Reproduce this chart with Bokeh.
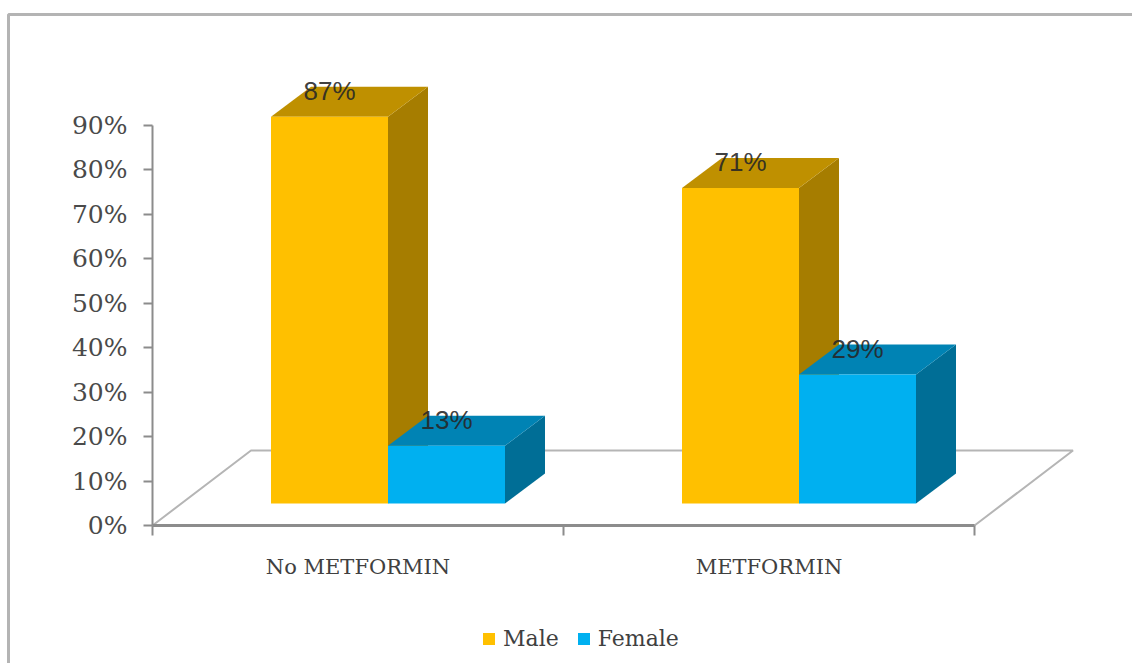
from bokeh.embed import file_html
from bokeh.models import BoxAnnotation, FixedTicker, Legend, LegendItem, LinearAxis, Range1d
from bokeh.plotting import figure
from bokeh.resources import INLINE
from bokeh.core.properties import value

categories = ["No METFORMIN", "METFORMIN"]
male = [87, 71]
female = [13, 29]
percent_ticks = [0, 10, 20, 30, 40, 50, 60, 70, 80, 90]

# Pixel scale of the two axes
PX_PER_CATEGORY = 411.0
PX_PER_PERCENT = 4.444
AXIS_LEFT = 152
AXIS_BOTTOM = 525
WIDTH, HEIGHT = 1132, 663

# Oblique projection used for the 3-D look, in data units
BAR_DX = 40 / PX_PER_CATEGORY
BAR_DY = 30 / PX_PER_PERCENT
FLOOR_DX = 98.5 / PX_PER_CATEGORY
FLOOR_DY = 75 / PX_PER_PERCENT
BASE_Y = 22 / PX_PER_PERCENT
BAR_W = 117 / PX_PER_CATEGORY
BAR_START = 118.5 / PX_PER_CATEGORY
LABEL_RISE = 26 / PX_PER_PERCENT

SERIF = "DejaVu Serif"
AXIS_GREY = "#8c8c8c"

p = figure(
    width=WIDTH,
    height=HEIGHT,
    output_backend="svg",
    toolbar_location=None,
    x_range=Range1d(-AXIS_LEFT / PX_PER_CATEGORY, (WIDTH - AXIS_LEFT) / PX_PER_CATEGORY),
    y_range=Range1d(-(HEIGHT - AXIS_BOTTOM) / PX_PER_PERCENT, AXIS_BOTTOM / PX_PER_PERCENT),
    x_axis_location=None,
    y_axis_location=None,
    min_border=0,
    outline_line_color=None,
    background_fill_color="white",
    border_fill_color="white",
)
p.grid.visible = False

# Outer chart frame: only its top and left edges fall on the page
p.add_layout(BoxAnnotation(
    left=8, right=1300, top=14, bottom=900,
    left_units="canvas", right_units="canvas", top_units="canvas", bottom_units="canvas",
    fill_alpha=0, line_color="#b4b4b4", line_alpha=1, line_width=3,
))

# Value axis
y_axis = LinearAxis(
    fixed_location=0,
    ticker=FixedTicker(ticks=percent_ticks),
    bounds=(0, 90),
    major_label_overrides={t: f"{t}%" for t in percent_ticks},
    major_tick_out=9, major_tick_in=0,
    major_tick_line_color=AXIS_GREY, axis_line_color=AXIS_GREY,
    major_tick_line_width=2, axis_line_width=2,
    major_label_standoff=16,
    major_label_text_font=SERIF, major_label_text_font_size="25px",
    major_label_text_color="#4a4a4a",
    minor_tick_line_color=None,
)
p.add_layout(y_axis, "left")

# Category axis: labels sit mid-slot, ticks mark the slot boundaries
slots = list(range(len(categories) + 1))
x_axis = LinearAxis(
    fixed_location=0,
    ticker=FixedTicker(ticks=[i + 0.5 for i in range(len(categories))], minor_ticks=slots),
    bounds=(0, len(categories)),
    major_label_overrides={i + 0.5: c for i, c in enumerate(categories)},
    major_tick_in=0, major_tick_out=0,
    minor_tick_in=0, minor_tick_out=10,
    minor_tick_line_color=AXIS_GREY, minor_tick_line_width=2,
    axis_line_color=AXIS_GREY, axis_line_width=3,
    major_label_standoff=19,
    major_label_text_font=SERIF, major_label_text_font_size="21px",
    major_label_text_color="#404040",
)
p.add_layout(x_axis, "below")

# Floor of the 3-D plot area
n = len(categories)
p.line([0, FLOOR_DX, n + FLOOR_DX, n], [0, FLOOR_DY, FLOOR_DY, 0],
       line_color="#b5b5b5", line_width=2)


def box(left, width, top, front, side, cap):
    """Draw one oblique bar from its value and return the front-face renderer."""
    right = left + width
    p.patch([right, right + BAR_DX, right + BAR_DX, right],
            [BASE_Y, BASE_Y + BAR_DY, BASE_Y + top + BAR_DY, BASE_Y + top],
            fill_color=side, line_color=None)
    p.patch([left, right, right + BAR_DX, left + BAR_DX],
            [BASE_Y + top, BASE_Y + top, BASE_Y + top + BAR_DY, BASE_Y + top + BAR_DY],
            fill_color=cap, line_color=None)
    return p.patch([left, right, right, left],
                   [BASE_Y, BASE_Y, BASE_Y + top, BASE_Y + top],
                   fill_color=front, line_color=None)


male_face = female_face = None
for i, (m, f) in enumerate(zip(male, female)):
    left = i + BAR_START
    male_face = box(left, BAR_W, m, "#FFC000", "#A67D00", "#BF9000")
    female_face = box(left + BAR_W, BAR_W, f, "#00B0F0", "#006E96", "#0083B4")

# Value labels straddle the back edge of each bar's top face
for i, (m, f) in enumerate(zip(male, female)):
    for offset, v in ((0, m), (1, f)):
        x = i + BAR_START + BAR_W * (offset + 0.5)
        y = BASE_Y + v + LABEL_RISE
        p.text([x], [y], text=[f"{v}%"], text_align="center", text_baseline="middle",
               text_font=value("Liberation Sans"), text_font_size="26px",
               text_color="#262626", text_alpha=0.9)

legend = Legend(
    items=[LegendItem(label="Male", renderers=[male_face]),
           LegendItem(label="Female", renderers=[female_face])],
    orientation="horizontal",
    location=(481, 12),
    glyph_width=15, glyph_height=15,
    label_standoff=7, spacing=17, padding=6, margin=0,
    border_line_color=None, background_fill_alpha=0,
    label_text_font=SERIF, label_text_font_size="22px", label_text_color="#404040",
)
p.add_layout(legend, "center")

open("out.html", "w").write(file_html(p, INLINE))
